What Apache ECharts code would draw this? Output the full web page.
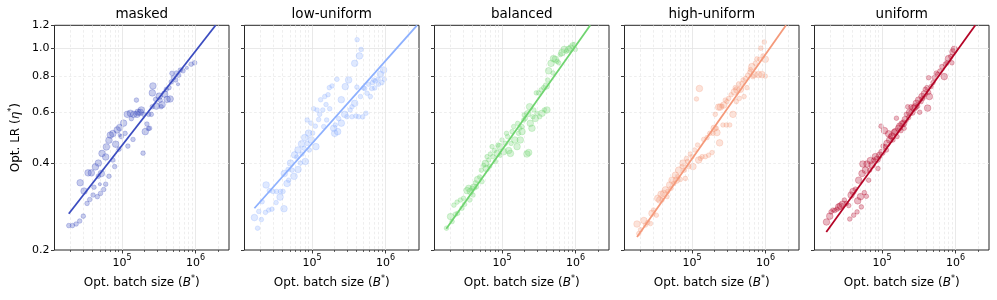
<!DOCTYPE html>
<html><head><meta charset="utf-8">
<script src="https://cdn.jsdelivr.net/npm/echarts@6/dist/echarts.min.js"></script>
<style>html,body{margin:0;padding:0;background:#fff}#c{width:997px;height:300px}</style>
</head><body><div id="c"></div>
<script>
const panelTitles = ['masked', 'low-uniform', 'balanced', 'high-uniform', 'uniform'];
const panelColors = ['#3b4cc0', '#8db0fe', '#6fd46f', '#f4997a', '#b40426'];
const xTickValues = [1e5, 1e6];
const xMinorTickValues = [2e4,3e4,4e4,5e4,6e4,7e4,8e4,9e4,2e5,3e5,4e5,5e5,6e5,7e5,8e5,9e5,2e6];
const yTickValues = [0.2, 0.4, 0.6, 0.8, 1.0, 1.2];
const yMajorGrid = [1.0];
const yMinorGrid = [0.4, 0.6, 0.8];

// points: [batch size B*, lr eta*, weight class]
const maskedPoints = [[1.89e4,0.243,2],[2.12e4,0.243,2],[2.38e4,0.246,2],[2.66e4,0.252,2],[2.98e4,0.262,2],[2.7e4,0.342,3],[3.05e4,0.320,3],[3.35e4,0.290,2],[3.64e4,0.299,2],[3.46e4,0.37,3],[3.83e4,0.37,3],[4.04e4,0.31,2],[4.16e4,0.33,2],[4.62e4,0.306,2],[4.35e4,0.388,3],[4.77e4,0.40,3],[4.77e4,0.36,2],[5.1e4,0.314,2],[5.24e4,0.368,3],[5.35e4,0.432,3],[5.64e4,0.324,2],[6.0e4,0.42,3],[6.0e4,0.338,2],[6.13e4,0.455,3],[6.65e4,0.48,3],[6.65e4,0.36,2],[6.94e4,0.50,3],[7.5e4,0.506,3],[7.5e4,0.41,2],[7.95e4,0.389,2],[8.2e4,0.465,3],[8.6e4,0.521,3],[9.3e4,0.531,3],[9.1e4,0.447,2],[1.05e5,0.55,3],[1.1e5,0.507,2],[9.8e4,0.494,2],[1.18e5,0.59,3],[1.2e5,0.458,2],[1.3e5,0.595,3],[1.34e5,0.57,2],[1.44e5,0.59,3],[1.41e5,0.483,2],[1.57e5,0.661,2],[1.6e5,0.59,3],[1.65e5,0.60,3],[1.77e5,0.60,3],[1.83e5,0.611,3],[1.93e5,0.433,2],[1.97e5,0.59,2],[2.07e5,0.514,3],[2.18e5,0.546,2],[2.28e5,0.527,2],[2.37e5,0.528,2],[2.5e5,0.59,2],[2.3e5,0.59,2],[2.58e5,0.627,2],[2.63e5,0.74,3],[2.58e5,0.70,3],[2.86e5,0.665,2],[2.92e5,0.63,3],[3.2e5,0.682,3],[3.3e5,0.66,2],[3.4e5,0.627,2],[3.5e5,0.637,3],[3.8e5,0.693,3],[4.0e5,0.72,2],[4.1e5,0.665,3],[4.5e5,0.667,3],[4.35e5,0.73,2],[4.67e5,0.764,2],[4.77e5,0.818,2],[5.0e5,0.79,2],[5.47e5,0.82,2],[5.88e5,0.806,2],[6.2e5,0.84,2],[6.75e5,0.835,2],[7.6e5,0.855,1],[8.7e5,0.88,2],[9.7e5,0.89,2],[5.36e5,0.776,2],[5.76e5,0.75,1],[9.3e4,0.50,1],[5.0e4,0.338,1]];
const lowUniformPoints = [[1.65e4,0.259,3],[1.82e4,0.238,2],[1.89e4,0.272,2],[2.05e4,0.255,2],[2.1e4,0.294,2],[2.33e4,0.27,2],[2.38e4,0.336,3],[2.58e4,0.275,2],[2.63e4,0.321,2],[2.86e4,0.277,2],[2.95e4,0.319,2],[3.25e4,0.292,2],[3.3e4,0.319,2],[3.68e4,0.305,3],[3.72e4,0.319,2],[4.04e4,0.319,2],[4.16e4,0.278,3],[4.2e4,0.368,3],[4.58e4,0.34,3],[4.82e4,0.349,2],[4.72e4,0.38,2],[5.1e4,0.40,3],[5.35e4,0.378,2],[5.7e4,0.36,3],[5.8e4,0.427,3],[6.2e4,0.42,2],[6.45e4,0.38,3],[6.45e4,0.444,3],[6.94e4,0.40,2],[7.2e4,0.466,3],[7.32e4,0.43,2],[7.8e4,0.45,2],[8.1e4,0.405,3],[7.95e4,0.49,3],[8.6e4,0.564,2],[8.6e4,0.468,2],[9.0e4,0.508,3],[9.2e4,0.444,2],[9.7e4,0.55,2],[9.8e4,0.481,3],[1.02e5,0.508,2],[1.05e5,0.617,2],[1.11e5,0.537,2],[1.13e5,0.456,3],[1.17e5,0.611,2],[1.23e5,0.566,2],[1.27e5,0.59,2],[1.31e5,0.663,2],[1.4e5,0.611,2],[1.44e5,0.535,2],[1.49e5,0.68,2],[1.55e5,0.638,2],[1.58e5,0.564,2],[1.65e5,0.69,2],[1.72e5,0.73,2],[1.74e5,0.617,2],[1.87e5,0.74,2],[1.97e5,0.528,3],[2.03e5,0.507,3],[2.07e5,0.542,2],[2.18e5,0.78,2],[2.23e5,0.514,3],[2.3e5,0.57,2],[2.5e5,0.663,3],[2.5e5,0.55,3],[2.78e5,0.59,3],[2.83e5,0.736,3],[2.98e5,0.579,2],[3.14e5,0.776,3],[3.3e5,0.611,2],[3.49e5,0.579,2],[3.49e5,0.627,2],[3.8e5,0.644,3],[3.8e5,0.886,3],[3.95e5,0.582,2],[4.07e5,0.733,2],[4.1e5,1.07,2],[4.3e5,0.579,2],[4.4e5,0.94,3],[4.55e5,0.68,2],[4.64e5,0.99,2],[4.88e5,0.578,2],[5.0e5,0.728,2],[5.2e5,0.725,2],[5.4e5,0.595,2],[5.58e5,0.698,2],[5.88e5,0.75,2],[6.2e5,0.68,2],[6.6e5,0.76,2],[6.9e5,0.776,2],[7.1e5,0.728,2],[7.24e5,0.77,2],[7.9e5,0.78,2],[8.0e5,0.75,2],[8.5e5,0.812,3],[8.9e5,0.76,2],[9.4e5,0.84,3],[9.6e5,0.78,2],[6.5e5,0.725,2]];
const balancedPoints = [[1.76e4,0.238,2],[2.0e4,0.261,3],[2.1e4,0.251,2],[2.22e4,0.286,2],[2.33e4,0.266,2],[2.45e4,0.293,2],[2.5e4,0.268,2],[2.72e4,0.298,2],[2.86e4,0.279,2],[3.0e4,0.302,2],[3.1e4,0.288,2],[3.35e4,0.321,3],[3.53e4,0.327,3],[3.72e4,0.319,3],[3.64e4,0.298,2],[3.92e4,0.327,2],[4.04e4,0.31,2],[4.12e4,0.33,3],[4.35e4,0.342,2],[4.5e4,0.331,2],[4.67e4,0.351,3],[4.97e4,0.358,2],[5.24e4,0.378,2],[5.35e4,0.345,2],[5.64e4,0.393,2],[5.94e4,0.399,3],[6.13e4,0.383,3],[6.26e4,0.421,2],[6.59e4,0.41,2],[6.8e4,0.39,2],[6.94e4,0.43,2],[7.32e4,0.456,2],[7.5e4,0.421,2],[7.87e4,0.442,2],[8.12e4,0.405,2],[8.6e4,0.432,3],[8.8e4,0.462,2],[9.3e4,0.456,3],[9.5e4,0.426,2],[1.0e5,0.481,2],[1.05e5,0.438,3],[1.11e5,0.468,2],[1.15e5,0.507,2],[1.19e5,0.494,2],[1.23e5,0.442,3],[1.3e5,0.432,3],[1.33e5,0.468,2],[1.37e5,0.514,2],[1.44e5,0.535,2],[1.49e5,0.481,3],[1.6e5,0.456,3],[1.63e5,0.549,2],[1.68e5,0.507,2],[1.74e5,0.528,2],[1.77e5,0.481,3],[1.87e5,0.535,2],[1.87e5,0.514,3],[1.97e5,0.564,2],[2.0e5,0.587,2],[2.07e5,0.571,2],[2.18e5,0.43,3],[2.3e5,0.435,3],[2.23e5,0.593,3],[2.37e5,0.627,3],[2.42e5,0.549,3],[2.55e5,0.528,3],[2.63e5,0.579,2],[2.7e5,0.611,2],[2.83e5,0.571,3],[2.92e5,0.70,2],[2.98e5,0.595,2],[3.14e5,0.70,2],[3.25e5,0.579,2],[3.4e5,0.717,2],[3.49e5,0.595,3],[3.68e5,0.73,2],[3.76e5,0.611,2],[4.0e5,0.74,3],[4.07e5,0.611,3],[4.16e5,0.776,2],[4.3e5,0.835,3],[4.64e5,0.886,3],[4.93e5,0.82,2],[5.0e5,0.92,3],[5.3e5,0.915,3],[5.58e5,0.90,2],[5.88e5,0.89,2],[6.2e5,0.95,2],[6.52e5,0.965,3],[7.0e5,0.99,3],[7.47e5,0.975,2],[8.03e5,0.99,3],[8.6e5,1.0,3],[9.2e5,1.02,3],[9.6e5,1.03,2],[9.9e5,0.99,2]];
const highUniformPoints = [[1.79e4,0.246,3],[1.89e4,0.228,2],[2.0e4,0.235,2],[2.22e4,0.253,3],[2.33e4,0.244,2],[2.5e4,0.249,2],[2.72e4,0.247,2],[2.86e4,0.268,3],[3.0e4,0.275,2],[3.28e4,0.264,2],[3.42e4,0.302,3],[3.64e4,0.298,3],[3.8e4,0.312,3],[3.92e4,0.298,2],[4.12e4,0.314,3],[4.35e4,0.323,3],[4.58e4,0.306,2],[4.67e4,0.319,2],[4.97e4,0.336,3],[5.2e4,0.327,2],[5.35e4,0.349,3],[5.64e4,0.34,2],[5.94e4,0.363,3],[6.13e4,0.349,3],[6.45e4,0.359,2],[6.59e4,0.378,3],[6.94e4,0.351,2],[7.32e4,0.389,2],[7.55e4,0.40,3],[7.87e4,0.378,2],[8.12e4,0.354,2],[8.4e4,0.415,2],[8.7e4,0.405,2],[9.0e4,0.389,2],[9.5e4,0.43,2],[1.0e5,0.421,2],[1.03e5,0.389,3],[1.08e5,0.444,2],[1.15e5,0.667,2],[1.19e5,0.462,2],[1.23e5,0.41,3],[1.26e5,0.725,3],[1.3e5,0.415,2],[1.37e5,0.421,2],[1.44e5,0.483,2],[1.52e5,0.421,2],[1.6e5,0.49,2],[1.68e5,0.426,2],[1.74e5,0.507,2],[1.87e5,0.435,2],[1.93e5,0.507,2],[2.0e5,0.528,3],[2.07e5,0.59,2],[2.14e5,0.528,2],[2.18e5,0.51,3],[2.3e5,0.625,3],[2.37e5,0.47,3],[2.42e5,0.625,3],[2.55e5,0.63,2],[2.63e5,0.542,2],[2.7e5,0.635,3],[2.83e5,0.661,2],[2.92e5,0.542,2],[2.98e5,0.653,2],[3.14e5,0.67,2],[3.25e5,0.542,2],[3.4e5,0.69,2],[3.6e5,0.59,3],[3.76e5,0.706,3],[3.87e5,0.73,2],[4.0e5,0.653,2],[4.07e5,0.717,3],[4.3e5,0.752,2],[4.4e5,0.67,2],[4.55e5,0.72,3],[4.77e5,0.756,2],[4.93e5,0.776,2],[5.1e5,0.68,2],[5.3e5,0.786,2],[5.58e5,0.73,2],[5.7e5,0.806,2],[6.1e5,0.826,2],[6.2e5,0.843,2],[6.5e5,0.863,3],[6.7e5,0.797,2],[7.0e5,0.81,3],[7.24e5,0.886,2],[7.6e5,0.918,2],[8.0e5,0.81,3],[8.3e5,0.915,2],[8.6e5,1.0,2],[8.9e5,0.81,3],[9.6e5,1.05,2],[9.9e5,0.915,3],[9.9e5,0.80,2],[9.2e5,0.94,2]];
const uniformPoints = [[1.76e4,0.25,3],[1.95e4,0.262,3],[2.03e4,0.271,2],[2.16e4,0.275,2],[2.28e4,0.274,2],[2.45e4,0.277,2],[2.58e4,0.282,3],[2.72e4,0.284,3],[2.9e4,0.288,3],[3.08e4,0.298,2],[3.28e4,0.29,2],[3.53e4,0.285,2],[3.64e4,0.256,2],[3.8e4,0.31,3],[4.04e4,0.319,3],[4.12e4,0.264,2],[4.35e4,0.325,2],[4.58e4,0.271,2],[4.67e4,0.296,3],[4.82e4,0.349,3],[5.1e4,0.306,3],[5.24e4,0.282,2],[5.35e4,0.368,3],[5.5e4,0.397,3],[5.75e4,0.316,2],[5.94e4,0.378,3],[6.13e4,0.307,2],[6.26e4,0.397,3],[6.59e4,0.349,2],[6.8e4,0.378,2],[6.94e4,0.408,3],[7.32e4,0.394,3],[7.7e4,0.41,2],[8.12e4,0.421,3],[8.6e4,0.412,3],[8.8e4,0.383,2],[9.3e4,0.426,3],[9.7e4,0.537,2],[1.0e5,0.436,3],[1.03e5,0.458,2],[1.08e5,0.518,3],[1.11e5,0.456,2],[1.15e5,0.444,2],[1.17e5,0.468,3],[1.23e5,0.505,3],[1.27e5,0.481,3],[1.3e5,0.494,2],[1.37e5,0.496,3],[1.41e5,0.481,2],[1.47e5,0.51,3],[1.52e5,0.514,3],[1.57e5,0.572,2],[1.6e5,0.494,2],[1.68e5,0.528,3],[1.74e5,0.537,3],[1.81e5,0.518,2],[1.87e5,0.546,3],[1.97e5,0.55,3],[2.0e5,0.528,2],[2.07e5,0.566,3],[2.14e5,0.59,2],[2.23e5,0.627,2],[2.3e5,0.575,2],[2.37e5,0.6,3],[2.47e5,0.627,2],[2.55e5,0.6,3],[2.7e5,0.62,3],[2.83e5,0.627,3],[2.92e5,0.644,3],[3.05e5,0.63,2],[3.14e5,0.661,3],[3.25e5,0.6,2],[3.4e5,0.653,2],[3.49e5,0.68,3],[3.6e5,0.67,2],[3.76e5,0.695,3],[3.87e5,0.72,2],[4.07e5,0.73,2],[4.16e5,0.62,3],[4.3e5,0.703,2],[4.4e5,0.68,3],[4.64e5,0.736,2],[4.93e5,0.76,2],[5.1e5,0.79,2],[5.45e5,0.82,2],[5.7e5,0.812,2],[6.1e5,0.833,2],[6.5e5,0.863,2],[7.0e5,0.797,3],[7.24e5,0.88,2],[7.6e5,0.89,2],[8.0e5,0.92,3],[8.6e5,0.935,2],[9.2e5,0.97,3],[9.6e5,0.99,3],[8.9e5,0.89,2],[4.3e5,0.79,2]];

// fitted power-law lines: [B*, eta*] end points
const maskedFit = [[1.89e4, 0.267], [1.87e6, 1.2]];
const lowUniformFit = [[1.65e4, 0.279], [2.67e6, 1.2]];
const balancedFit = [[1.75e4, 0.237], [1.58e6, 1.2]];
const highUniformFit = [[1.79e4, 0.222], [1.89e6, 1.2]];
const uniformFit = [[1.75e4, 0.231], [1.85e6, 1.2]];

const allPoints = [maskedPoints, lowUniformPoints, balancedPoints, highUniformPoints, uniformPoints];
const allFits = [maskedFit, lowUniformFit, balancedFit, highUniformFit, uniformFit];

const FONT = 'DejaVu Sans';
const X_MIN = 1.21e4, X_MAX = 2.84e6, Y_MIN = 0.2, Y_MAX = 1.2;
const gridLefts = [54.5, 244.5, 434.5, 624.5, 814.5];
const GW = 174.5, GT = 25.3, GH = 224.7;

function hexA(hex, a) {
  const n = parseInt(hex.slice(1), 16);
  return 'rgba(' + ((n >> 16) & 255) + ',' + ((n >> 8) & 255) + ',' + (n & 255) + ',' + a + ')';
}
const sizeByClass = [0, 3.2, 4.6, 6.6];

const grids = [], xAxes = [], yAxes = [], series = [], titles = [];
const solidGrid = { show: true, lineStyle: { color: '#e3e3e3', width: 0.8, type: 'solid' } };
const dashGrid = { show: true, lineStyle: { color: '#e6e6e6', width: 0.7, type: [2.6, 2.2] } };

for (let i = 0; i < 5; i++) {
  grids.push({ left: gridLefts[i], top: GT, width: GW, height: GH, show: true, borderColor: '#262626', borderWidth: 1, backgroundColor: 'transparent' });
  titles.push({ text: panelTitles[i], left: gridLefts[i] + GW / 2, top: 7, textAlign: 'center', padding: 0,
    textStyle: { fontFamily: FONT, fontSize: 13.5, fontWeight: 'normal', color: '#000' } });
  // x major
  xAxes.push({ type: 'log', gridIndex: i, position: 'bottom', min: X_MIN, max: X_MAX, logBase: 10,
    axisLine: { show: false }, z: 3,
    axisTick: { show: true, length: 3.5, customValues: xTickValues, lineStyle: { color: '#262626', width: 0.9 } },
    axisLabel: { show: true, customValues: xTickValues, margin: 4, color: '#000', fontFamily: FONT,
      formatter: v => '{b|10}{s|' + Math.round(Math.log10(v)) + '}',
      rich: { b: { fontSize: 11, fontFamily: FONT, color: '#000', lineHeight: 15, verticalAlign: 'bottom' },
              s: { fontSize: 8, fontFamily: FONT, color: '#000', lineHeight: 9, verticalAlign: 'top' } } },
    splitLine: solidGrid,
    name: 'Opt. batch size ({i|B}{s|*})', nameLocation: 'middle', nameGap: 25,
    nameTextStyle: { fontFamily: FONT, fontSize: 12, color: '#000', lineHeight: 16,
      rich: { i: { fontFamily: FONT, fontSize: 12, fontStyle: 'italic', color: '#000', lineHeight: 16 },
              s: { fontFamily: FONT, fontSize: 8, color: '#000', lineHeight: 10, verticalAlign: 'top' } } } });
  // x minor
  xAxes.push({ type: 'log', gridIndex: i, position: 'bottom', min: X_MIN, max: X_MAX, logBase: 10,
    axisLine: { show: false },
    axisTick: { show: true, length: 2, customValues: xMinorTickValues, lineStyle: { color: '#262626', width: 0.7 } },
    axisLabel: { show: false }, splitLine: dashGrid });
  // y main (ticks + labels)
  yAxes.push({ type: 'log', gridIndex: i, position: 'left', min: Y_MIN, max: Y_MAX, logBase: 10,
    axisLine: { show: false },
    axisTick: { show: true, length: 3.5, customValues: yTickValues, lineStyle: { color: '#262626', width: 0.9 } },
    axisLabel: { show: i === 0, customValues: yTickValues, margin: 5, color: '#000', fontFamily: FONT, fontSize: 11,
      formatter: v => v.toFixed(1) },
    splitLine: { show: false },
    name: i === 0 ? 'Opt. LR ({i|η}{s|*})' : '', nameLocation: 'middle', nameGap: 31, nameRotate: 90,
    nameTextStyle: { fontFamily: FONT, fontSize: 12, color: '#000', lineHeight: 16,
      rich: { i: { fontFamily: FONT, fontSize: 12, fontStyle: 'italic', color: '#000', lineHeight: 16 },
              s: { fontFamily: FONT, fontSize: 8, color: '#000', lineHeight: 10, verticalAlign: 'top' } } } });
  // y solid grid
  yAxes.push({ type: 'log', gridIndex: i, position: 'left', min: Y_MIN, max: Y_MAX, logBase: 10,
    axisLine: { show: false }, axisTick: { show: false, customValues: yMajorGrid }, axisLabel: { show: false },
    splitLine: solidGrid });
  // y dashed grid
  yAxes.push({ type: 'log', gridIndex: i, position: 'left', min: Y_MIN, max: Y_MAX, logBase: 10,
    axisLine: { show: false }, axisTick: { show: false, customValues: yMinorGrid }, axisLabel: { show: false },
    splitLine: dashGrid });

  const c = panelColors[i];
  series.push({ type: 'scatter', xAxisIndex: 2 * i, yAxisIndex: 3 * i, data: allPoints[i],
    symbolSize: v => sizeByClass[v[2]],
    itemStyle: { color: hexA(c, 0.28), borderColor: hexA(c, 0.38), borderWidth: 0.7, opacity: 1 },
    emphasis: { disabled: true }, z: 2 });
  series.push({ type: 'line', xAxisIndex: 2 * i, yAxisIndex: 3 * i, data: allFits[i], showSymbol: false, symbol: 'none',
    clip: true, lineStyle: { color: c, width: 1.8 }, emphasis: { disabled: true }, z: 3 });
}

const chart = echarts.init(document.getElementById('c'), null, { renderer: 'canvas' });
chart.setOption({ animation: false, backgroundColor: '#fff', title: titles, grid: grids, xAxis: xAxes, yAxis: yAxes, series: series });
</script></body></html>
